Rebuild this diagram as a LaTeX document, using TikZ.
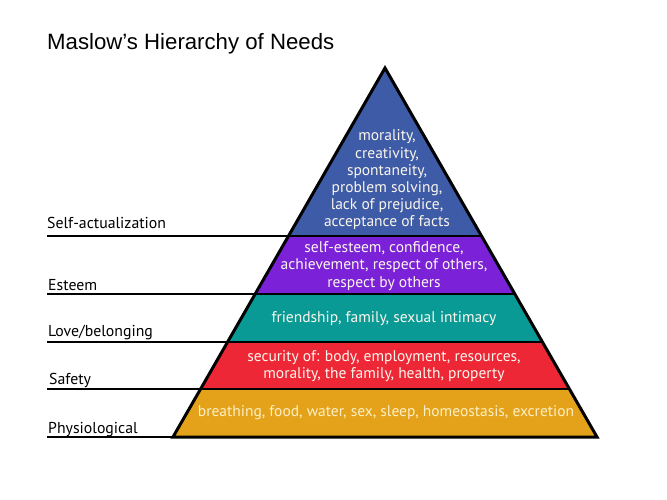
\documentclass[tikz,border=0pt]{standalone}
\usepackage{fontspec}
\setmainfont{Liberation Sans}
\newfontfamily\dinfont{PT Sans}
\usetikzlibrary{calc}
\definecolor{sablue}{HTML}{3D5BA6}
\definecolor{espurple}{HTML}{7B22D8}
\definecolor{lbteal}{HTML}{0A9A96}
\definecolor{sfred}{HTML}{EE2737}
\definecolor{phorange}{HTML}{E4A21B}
\definecolor{txtwhite}{HTML}{FBF6EC}
\definecolor{txtcream}{HTML}{FCEFC4}
\tikzset{
  bandtext/.style={text=txtwhite, align=center, font=\dinfont\fontsize{15.5}{17.2}\selectfont, inner sep=0pt},
  sidelabel/.style={anchor=base west, font=\dinfont\fontsize{15.8}{18}\selectfont, inner sep=0pt, text=black},
  sideline/.style={line width=1.8pt, black},
  divider/.style={line width=2.2pt, black},
  outline/.style={line width=3pt, black, line join=miter}
}
\begin{document}
\begin{tikzpicture}[x=1pt,y=-1pt]
\useasboundingbox (0,0) rectangle (667,500);
% pyramid corners
\coordinate (A) at (385,68);
\coordinate (BL) at (173,437);
\coordinate (BR) at (597,437);
% band boundary points
\coordinate (L1) at ($(A)!0.4553!(BL)$);
\coordinate (R1) at ($(A)!0.4553!(BR)$);
\coordinate (L2) at ($(A)!0.6125!(BL)$);
\coordinate (R2) at ($(A)!0.6125!(BR)$);
\coordinate (L3) at ($(A)!0.7425!(BL)$);
\coordinate (R3) at ($(A)!0.7425!(BR)$);
\coordinate (L4) at ($(A)!0.8699!(BL)$);
\coordinate (R4) at ($(A)!0.8699!(BR)$);
% fills
\fill[sablue] (A) -- (R1) -- (L1) -- cycle;
\fill[espurple] (L1) -- (R1) -- (R2) -- (L2) -- cycle;
\fill[lbteal] (L2) -- (R2) -- (R3) -- (L3) -- cycle;
\fill[sfred] (L3) -- (R3) -- (R4) -- (L4) -- cycle;
\fill[phorange] (L4) -- (R4) -- (BR) -- (BL) -- cycle;
% side label lines
\coordinate (S1) at (47,236);
\coordinate (S2) at (47,294);
\coordinate (S3) at (47,342);
\coordinate (S4) at (47,389);
\coordinate (S5) at (47,437);
\draw[sideline] (S1) -- (L1);
\draw[sideline] (S2) -- (L2);
\draw[sideline] (S3) -- (L3);
\draw[sideline] (S4) -- (L4);
\draw[sideline] (S5) -- (BL);
% dividers
\draw[divider] (L1) -- (R1);
\draw[divider] (L2) -- (R2);
\draw[divider] (L3) -- (R3);
\draw[divider] (L4) -- (R4);
\draw[outline] (A) -- (BR) -- (BL) -- cycle;
% title
\node[anchor=base west, inner sep=0pt, font=\fontsize{22.2}{26}\selectfont] (title) at (47,50) {Maslow’s Hierarchy of Needs};
% side labels
\node[sidelabel] (lsa) at (47,229) {Self-actualization};
\node[sidelabel] (les) at (48,290) {Esteem};
\node[sidelabel] (llb) at (48,336) {Love/belonging};
\node[sidelabel] (lsf) at (49,384) {Safety};
\node[sidelabel] (lph) at (48,433) {Physiological};
% band texts
\node[bandtext] (tsa) at (387,180) {morality,\\creativity,\\spontaneity,\\problem solving,\\lack of prejudice,\\acceptance of facts};
\node[bandtext] (tes) at (384,266) {self-esteem, confidence,\\achievement, respect of others,\\respect by others};
\node[bandtext] (tlb) at (384,319) {friendship, family, sexual intimacy};
\node[bandtext] (tsf) at (384,366) {security of: body, employment, resources,\\morality, the family, health, property};
\node[bandtext, text=txtcream] (tph) at (386,413) {breathing, food, water, sex, sleep, homeostasis, excretion};
\end{tikzpicture}
\end{document}
